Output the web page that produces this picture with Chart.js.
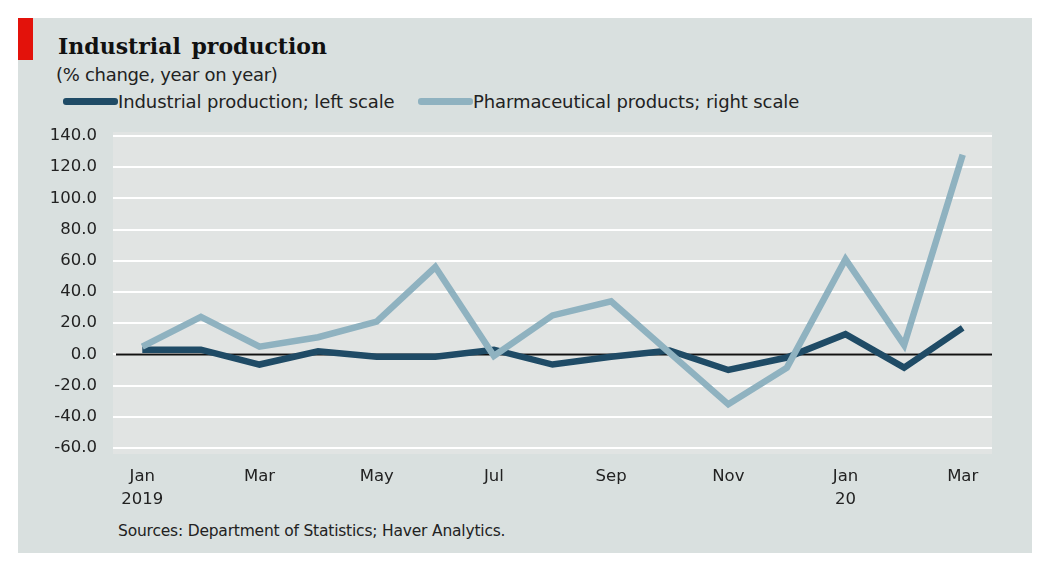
<!DOCTYPE html>
<html>
<head>
<meta charset="utf-8">
<script src="https://cdn.jsdelivr.net/npm/chart.js@4"></script>
<style>
  html, body { margin: 0; padding: 0; background: #fff; }
  body { width: 1056px; height: 564px; position: relative; overflow: hidden; font-family: "DejaVu Sans", sans-serif; color: #222; }
  #panel { position: absolute; left: 18px; top: 18px; width: 1014px; height: 535px; background: #d9e0df; }
  #redbar { position: absolute; left: 18px; top: 18px; width: 15px; height: 42px; background: #e3120b; }
  #title { position: absolute; left: 58px; top: 33px; font-family: "DejaVu Serif", serif; font-weight: bold; font-size: 22px; color: #111; word-spacing: 3px; }
  #subtitle { position: absolute; left: 56px; top: 64px; font-size: 18px; letter-spacing: -0.3px; color: #222; }
  .leg { position: absolute; top: 91px; font-size: 18px; letter-spacing: -0.1px; color: #222; white-space: nowrap; }
  .leg i { display: inline-block; width: 55px; height: 7px; border-radius: 3px; vertical-align: middle; margin-right: 0; position: relative; top: -2px; }
  #source { position: absolute; left: 118px; top: 522px; font-size: 15.5px; letter-spacing: -0.2px; color: #222; }
  #wrap { position: absolute; left: 0; top: 0; width: 1056px; height: 564px; }
</style>
</head>
<body>
<div id="panel"></div>
<div id="redbar"></div>
<div id="title">Industrial production</div>
<div id="subtitle">(% change, year on year)</div>
<div class="leg" style="left:63px"><i style="background:#1f4b66"></i>Industrial production; left scale</div>
<div class="leg" style="left:418px"><i style="background:#8fb2c0"></i>Pharmaceutical products; right scale</div>
<div id="source">Sources: Department of Statistics; Haver Analytics.</div>
<div id="wrap"><canvas id="chart" width="1056" height="564"></canvas></div>
<script>
var months = ['Jan 2019', 'Feb 2019', 'Mar 2019', 'Apr 2019', 'May 2019', 'Jun 2019', 'Jul 2019', 'Aug 2019',
  'Sep 2019', 'Oct 2019', 'Nov 2019', 'Dec 2019', 'Jan 2020', 'Feb 2020', 'Mar 2020'];
var tickLabels = [['Jan', '2019'], '', 'Mar', '', 'May', '', 'Jul', '', 'Sep', '', 'Nov', '', ['Jan', '20'], '', 'Mar'];
var industrial = [3, 3, -6.5, 2, -1.5, -1.5, 3, -6.5, -1.5, 2.5, -10, -2, 13, -8.5, 17];
var pharma = [5, 24, 5, 11, 21, 56, -1, 25, 34, 1, -32, -8.5, 61, 6, 128];
var yTicks = [-60, -40, -20, 0, 20, 40, 60, 80, 100, 120, 140];

var plotBg = {
  id: 'plotBg',
  beforeDraw: function (chart) {
    var a = chart.chartArea;
    var ctx = chart.ctx;
    ctx.save();
    ctx.fillStyle = '#e1e4e3';
    ctx.fillRect(a.left, a.top - 4, a.right - a.left, a.bottom - a.top + 10);
    ctx.restore();
  }
};

var zeroLine = {
  id: 'zeroLine',
  beforeDatasetsDraw: function (chart) {
    var y = chart.scales.y.getPixelForValue(0);
    var a = chart.chartArea;
    var ctx = chart.ctx;
    ctx.save();
    ctx.strokeStyle = '#111';
    ctx.lineWidth = 2;
    ctx.beginPath();
    ctx.moveTo(a.left + 3, y);
    ctx.lineTo(a.right, y);
    ctx.stroke();
    ctx.restore();
  }
};

new Chart(document.getElementById('chart'), {
  type: 'line',
  data: {
    labels: months,
    datasets: [
      { label: 'Pharmaceutical products; right scale', data: pharma, borderColor: '#8fb2c0', borderWidth: 6.5, pointRadius: 0, tension: 0 },
      { label: 'Industrial production; left scale', data: industrial, borderColor: '#1f4b66', borderWidth: 6.5, pointRadius: 0, tension: 0 }
    ]
  },
  options: {
    responsive: false,
    animation: false,
    layout: { padding: { left: 0, right: 64, top: 136, bottom: 30 } },
    plugins: { legend: { display: false }, tooltip: { enabled: false } },
    scales: {
      x: {
        offset: true,
        grid: { display: false },
        border: { display: false },
        ticks: {
          autoSkip: false,
          maxRotation: 0,
          padding: 9,
          color: '#222',
          font: { family: 'DejaVu Sans', size: 16.5, lineHeight: 1.4 },
          callback: function (v, i) { return tickLabels[i]; }
        },
        afterFit: function (s) { s.height = 86; }
      },
      y: {
        min: -60,
        max: 140,
        afterBuildTicks: function (s) { s.ticks = yTicks.map(function (v) { return { value: v }; }); },
        grid: { color: '#ffffff', lineWidth: 2, drawTicks: false },
        border: { display: false },
        ticks: {
          padding: 16,
          color: '#222',
          font: { family: 'DejaVu Sans', size: 16.5 },
          callback: function (v) { return v.toFixed(1); }
        },
        afterFit: function (s) { s.width = 113; }
      }
    }
  },
  plugins: [plotBg, zeroLine]
});
</script>
</body>
</html>
